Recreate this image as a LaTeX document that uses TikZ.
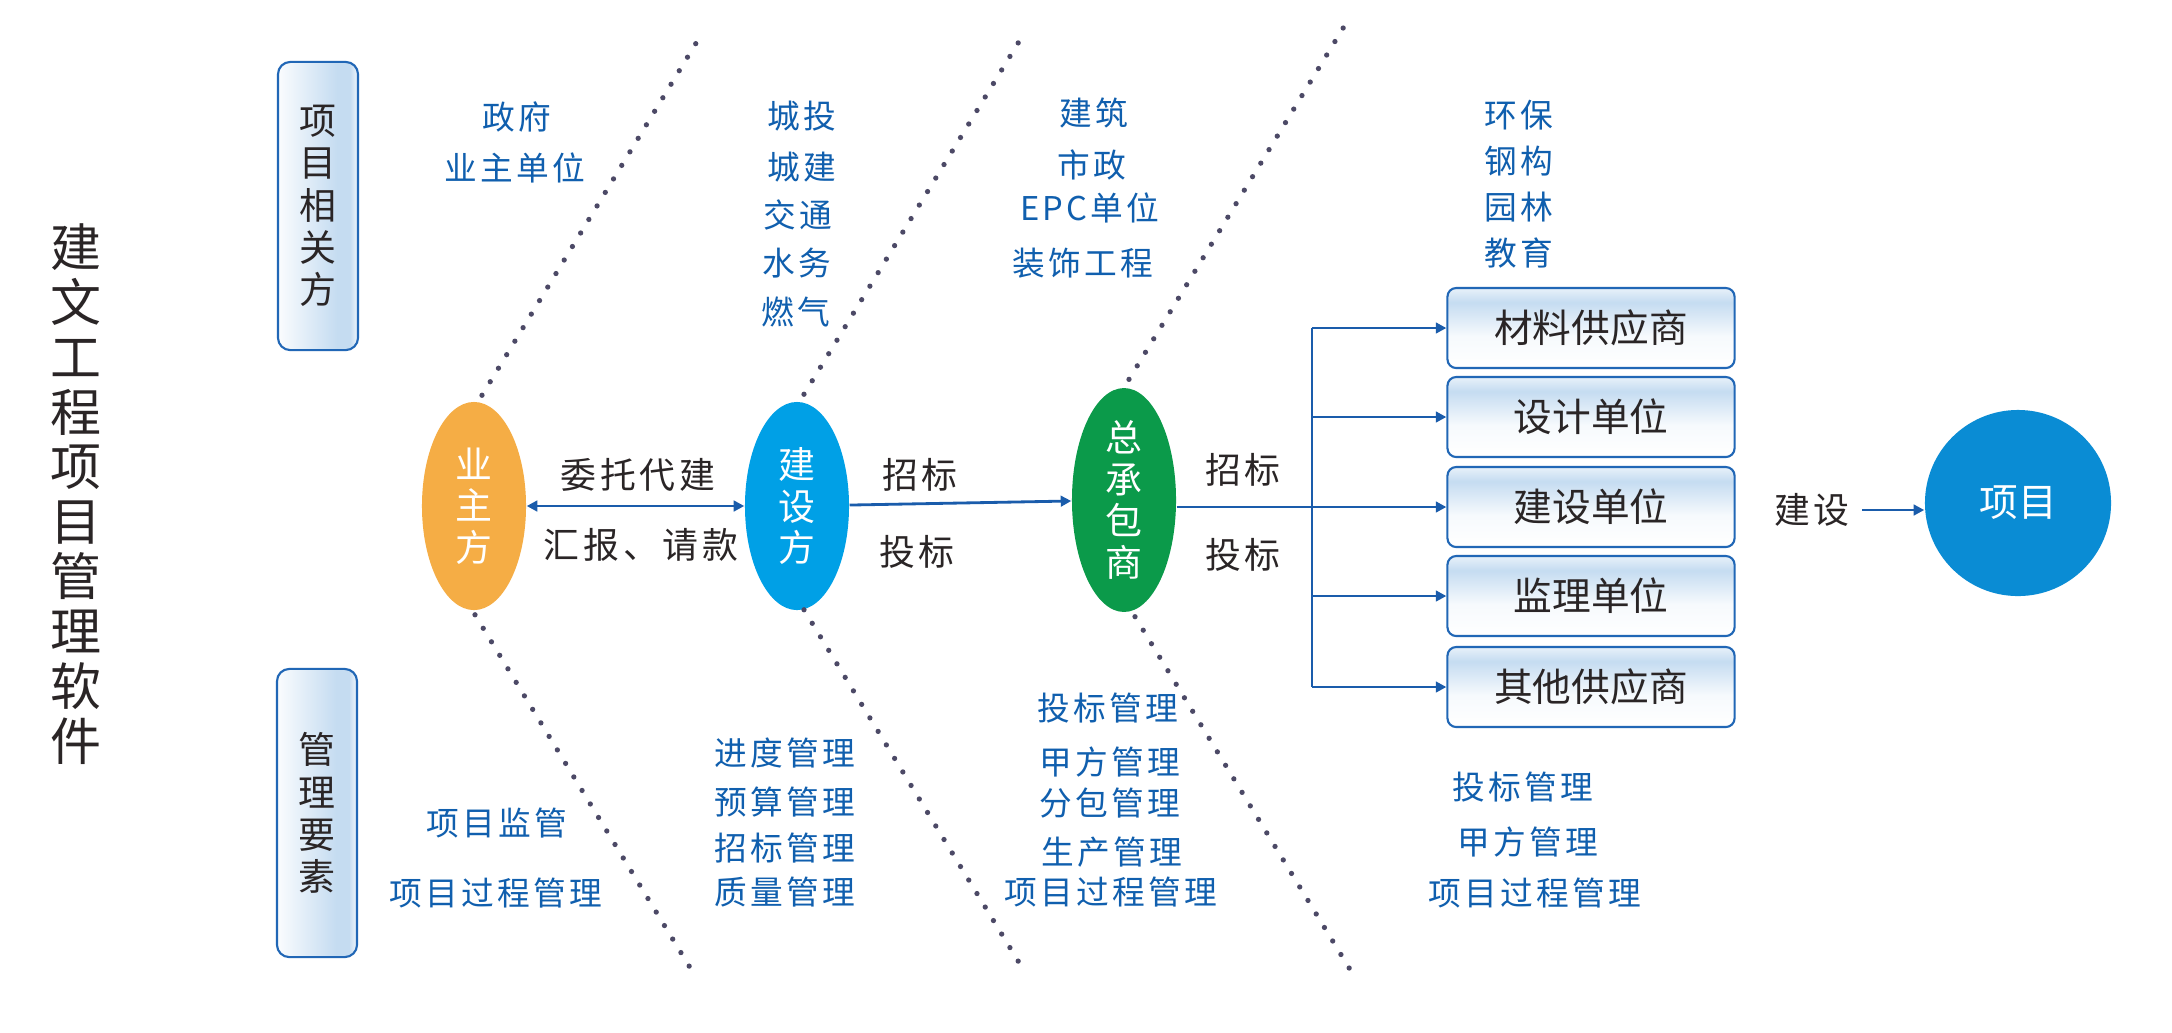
\documentclass[tikz,border=0pt]{standalone}
\usepackage{fontspec}
\setmainfont{Noto Sans CJK SC}
\usepackage{xcolor}
\usetikzlibrary{arrows.meta,calc,shapes.geometric}

\definecolor{ownerorange}{HTML}{F5AD45}
\definecolor{builderblue}{HTML}{00A0E6}
\definecolor{contractgreen}{HTML}{0B9A4A}
\definecolor{projblue}{HTML}{0A8CD4}
\definecolor{textblue}{HTML}{105FAE}
\definecolor{linkblue}{HTML}{1A5CAB}
\definecolor{dotgray}{HTML}{4C4966}
\definecolor{darktext}{HTML}{2A2526}
\definecolor{frameblue}{HTML}{2167B6}
\definecolor{paleblue}{HTML}{C5DCF1}

\pgfdeclarehorizontalshading{sidefill}{100bp}{color(0bp)=(white!92!paleblue); color(25bp)=(white!92!paleblue); color(62bp)=(paleblue); color(70bp)=(paleblue); color(75bp)=(white!75!paleblue); color(100bp)=(white!75!paleblue)}
\pgfdeclareverticalshading{unitfill}{100bp}{color(0bp)=(white); color(25bp)=(white); color(45bp)=(white!85!paleblue); color(66bp)=(paleblue); color(75bp)=(white!60!paleblue); color(100bp)=(white!60!paleblue)}

\begin{document}
\begin{tikzpicture}[x=0.01cm, y=-0.01cm, >={Triangle[length=3pt,width=3pt]},
    sidebox/.style={draw=frameblue, line width=0.6pt, rounded corners=3.5pt, shade, shading=sidefill,
        minimum width=0.8cm, minimum height=2.88cm, inner sep=0pt, align=center, text=darktext,
        font=\fontsize{10.5pt}{12pt}\selectfont},
    party/.style={ellipse, minimum width=1.04cm, minimum height=2.08cm, inner sep=0pt, align=center,
        text=white, font=\fontsize{10.5pt}{11.8pt}\selectfont},
    unitbox/.style={draw=frameblue, line width=0.6pt, rounded corners=2.5pt, shade, shading=unitfill,
        minimum width=2.87cm, minimum height=0.8cm, text=darktext, font=\fontsize{11pt}{13pt}\selectfont},
    flowtag/.style={text=darktext, font=\fontsize{10.2pt}{12pt}\selectfont\addfontfeatures{LetterSpace=11}},
    blueitem/.style={text=textblue, font=\fontsize{9.3pt}{11pt}\selectfont\addfontfeatures{LetterSpace=10}},
    link/.style={draw=linkblue, line width=0.8pt},
    dotline/.style={draw=dotgray, line width=1.5pt, line cap=round, dash pattern=on 0pt off 4.5pt}]

    % Canvas
    \fill[white] (0,0) rectangle (2172,1032);

    % Title
    \node[text=darktext, align=center, inner sep=0pt, font=\fontsize{14.5pt}{15.6pt}\selectfont] (title) at (76,494)
        {建\\文\\工\\程\\项\\目\\管\\理\\软\\件};

    % Side boxes
    \node[sidebox] (related) at (318,206) {项\\目\\相\\关\\方};
    \node[sidebox] (elements) at (317,813) {管\\理\\要\\素};

    % Parties
    \node[party, fill=ownerorange] (owner) at (474,506) {业\\主\\方};
    \node[party, fill=builderblue] (builder) at (797,506) {建\\设\\方};
    \node[party, fill=contractgreen] (contractor) at (1124,500) {总\\承\\包\\商};
    \node[circle, fill=projblue, minimum size=1.86cm, inner sep=0pt, text=white,
        font=\fontsize{11pt}{13pt}\selectfont] (project) at (2018,503) {项目};

    % Units
    \foreach \i/\y/\t in {1/328/材料供应商, 2/417/设计单位, 3/507/建设单位, 4/596/监理单位, 5/687/其他供应商}
        \node[unitbox] (u\i) at (1591,\y) {\t};

    % Links
    \draw[link, <->] (owner) -- (builder);
    \draw[link, ->] (builder) -- (contractor);
    \draw[link, ->] (contractor.east |- u3.west) -- (u3.west);
    \coordinate (bus) at (1312,507);
    \draw[link] (bus |- u1.west) -- (bus |- u5.west);
    \foreach \i in {1,2,4,5}
        \draw[link, ->] (bus |- u\i.west) -- (u\i.west);
    \node[flowtag] (build) at (1812,510) {建设};
    \draw[link, ->] (build.east) -- (build.east -| project.west);

    % Link labels
    \node[flowtag] (entrust) at (638,475) {委托代建};
    \node[flowtag] (report) at (641,545) {汇报、请款};
    \node[flowtag] (invite1) at (920,475) {招标};
    \node[flowtag] (bid1) at (917,552) {投标};
    \node[flowtag] (invite2) at (1243,470) {招标};
    \node[flowtag] (bid2) at (1243,555) {投标};

    % Dotted dividers
    \draw[dotline] ($(owner.north)+(8,-6)$) -- ++(217,-357);
    \draw[dotline] ($(owner.south)+(1,4)$) -- ++(217,356);
    \draw[dotline] ($(builder.north)+(7,-7)$) -- ++(217,-356);
    \draw[dotline] ($(builder.south)+(7,-1)$) -- ++(217,356);
    \draw[dotline] ($(contractor.north)+(5,-8)$) -- ++(217,-356);
    \draw[dotline] ($(contractor.south)+(11,4)$) -- ++(217,356);

    % Related parties
    \foreach \t/\x/\y [count=\k] in {政府/517/117, 业主单位/515/168,
        城投/802/116, 城建/802/167, 交通/798/215, 水务/797/263, 燃气/796/312,
        建筑/1094/113, 市政/1092/165, EPC单位/1090/208, 装饰工程/1083/263,
        环保/1519/115, 钢构/1519/161, 园林/1519/207, 教育/1519/253}
        \node[blueitem] (rel\k) at (\x,\y) {\t};

    % Management elements
    \foreach \t/\x/\y [count=\k] in {项目监管/497/823, 项目过程管理/496/893,
        进度管理/785/753, 预算管理/785/802, 招标管理/785/848, 质量管理/785/892,
        投标管理/1108/708, 甲方管理/1110/762, 分包管理/1110/803, 生产管理/1112/852, 项目过程管理/1111/892,
        投标管理/1523/787, 甲方管理/1528/842, 项目过程管理/1535/893}
        \node[blueitem] (mgt\k) at (\x,\y) {\t};
\end{tikzpicture}
\end{document}
